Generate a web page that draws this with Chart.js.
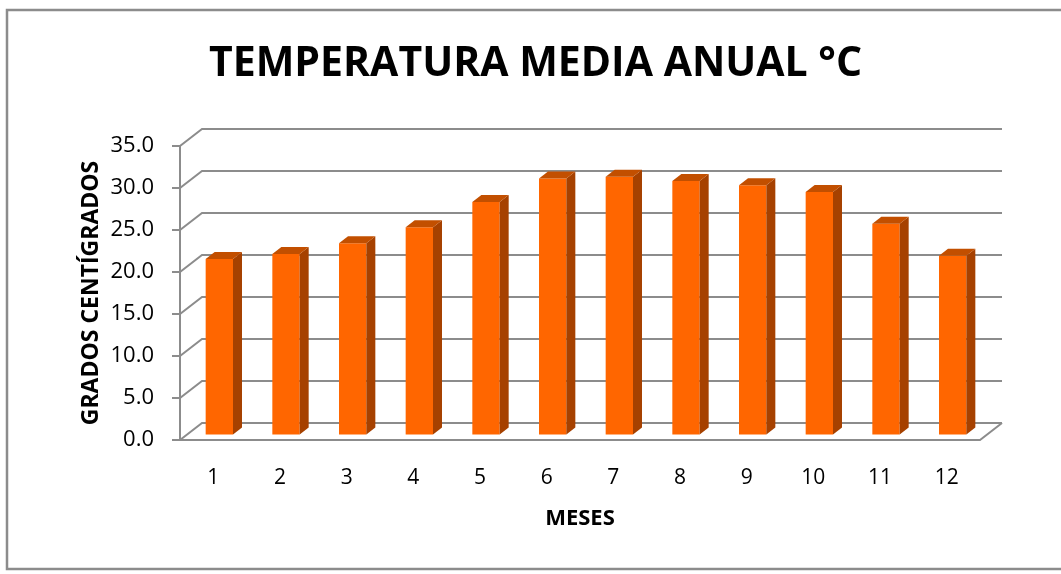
<!DOCTYPE html>
<html>
<head>
<meta charset="utf-8">
<script src="https://cdn.jsdelivr.net/npm/chart.js@4"></script>
<style>
  html, body { margin: 0; padding: 0; background: #fff; }
  #wrap { width: 1061px; height: 574px; }
</style>
</head>
<body>
<div id="wrap"><canvas id="myChart" width="1061" height="574"></canvas></div>
<script>
'use strict';

// data
var meses = ['1', '2', '3', '4', '5', '6', '7', '8', '9', '10', '11', '12'];
var temperaturas = [21.0, 21.6, 22.9, 24.8, 27.8, 30.6, 30.8, 30.3, 29.8, 29.0, 25.2, 21.4];
var ticksY = [0, 5, 10, 15, 20, 25, 30, 35];

var FONT = "'Open Sans', 'DejaVu Sans', sans-serif";
var GRID = '#8c8c8c';
var DEPTH_X = 22, DEPTH_Y = -17;      // back wall offset
var BAR_X = 6, BAR_Y = -4.5;          // bars sit a bit into the floor
var SIDE_X = 9, SIDE_Y = -7;          // bar thickness

// white background + frame
var framePlugin = {
    id: 'frame',
    beforeDraw: function (chart) {
        var ctx = chart.ctx;
        ctx.save();
        ctx.fillStyle = '#fff';
        ctx.fillRect(0, 0, chart.width, chart.height);
        ctx.strokeStyle = GRID;
        ctx.lineWidth = 2.5;
        ctx.strokeRect(7, 10, chart.width + 10, 559);
        ctx.restore();
    }
};

// back wall gridlines, floor and 3d bars
var wallPlugin = {
    id: 'wall',
    beforeDatasetsDraw: function (chart) {
        var ctx = chart.ctx;
        var area = chart.chartArea;
        var y = chart.scales.y;
        ctx.save();
        ctx.strokeStyle = GRID;
        ctx.lineWidth = 2;
        ticksY.forEach(function (v) {
            var py = y.getPixelForValue(v);
            ctx.beginPath();
            ctx.moveTo(area.left, py);
            ctx.lineTo(area.left + DEPTH_X, py + DEPTH_Y);
            ctx.lineTo(area.right + DEPTH_X, py + DEPTH_Y);
            ctx.stroke();
        });
        var p0 = y.getPixelForValue(0);
        ctx.beginPath();
        ctx.moveTo(area.left, p0);
        ctx.lineTo(area.right, p0);
        ctx.lineTo(area.right + DEPTH_X, p0 + DEPTH_Y);
        ctx.stroke();
        ctx.restore();

        chart.ctx.save();
        chart.ctx.translate(BAR_X, BAR_Y);
    },
    afterDatasetsDraw: function (chart) {
        var ctx = chart.ctx;
        var meta = chart.getDatasetMeta(0);
        meta.data.forEach(function (bar) {
            var l = bar.x - bar.width / 2;
            var r = bar.x + bar.width / 2;
            // side
            ctx.fillStyle = '#a64100';
            ctx.beginPath();
            ctx.moveTo(r, bar.y);
            ctx.lineTo(r + SIDE_X, bar.y + SIDE_Y);
            ctx.lineTo(r + SIDE_X, bar.base + SIDE_Y);
            ctx.lineTo(r, bar.base);
            ctx.closePath();
            ctx.fill();
            // top
            ctx.fillStyle = '#c24f00';
            ctx.beginPath();
            ctx.moveTo(l, bar.y);
            ctx.lineTo(l + SIDE_X, bar.y + SIDE_Y);
            ctx.lineTo(r + SIDE_X, bar.y + SIDE_Y);
            ctx.lineTo(r, bar.y);
            ctx.closePath();
            ctx.fill();
        });
        ctx.restore();
    }
};

var ctx = document.getElementById('myChart');
var myChart = new Chart(ctx, {
    type: 'bar',
    data: {
        labels: meses,
        datasets: [
            {
                label: 'Temperatura',
                data: temperaturas,
                backgroundColor: '#ff6600',
                borderWidth: 0,
                barPercentage: 0.41,
                categoryPercentage: 1
            }
        ]
    },
    options: {
        responsive: false,
        animation: false,
        layout: { padding: { left: 10, right: 0, top: 0, bottom: 0 } },
        plugins: {
            legend: { display: false },
            tooltip: { enabled: false },
            title: {
                display: true,
                text: 'TEMPERATURA MEDIA ANUAL °C',
                color: '#000',
                font: { family: FONT, size: 41, weight: 'bold', lineHeight: '50px' },
                padding: { top: 39, bottom: 57 }
            }
        },
        scales: {
            x: {
                afterFit: function (scale) { scale.height = 134; },
                grid: { display: false },
                border: { display: false },
                ticks: {
                    color: '#000',
                    padding: 17,
                    font: { family: FONT, size: 21, lineHeight: 1.2 }
                },
                title: {
                    display: true,
                    text: 'MESES',
                    color: '#000',
                    font: { family: FONT, size: 22, weight: 'bold', lineHeight: 1.2 },
                    padding: { top: 0, bottom: 42 }
                }
            },
            y: {
                min: 0,
                max: 35,
                afterFit: function (scale) { scale.width = 170; },
                afterBuildTicks: function (scale) {
                    scale.ticks = ticksY.map(function (v) { return { value: v }; });
                },
                grid: {
                    drawOnChartArea: false,
                    drawTicks: true,
                    tickLength: 8,
                    color: GRID,
                    lineWidth: 2
                },
                border: { display: true, color: GRID, width: 2 },
                ticks: {
                    color: '#000',
                    padding: 18,
                    font: { family: FONT, size: 22 },
                    callback: function (v) { return Number(v).toFixed(1); }
                },
                title: {
                    display: true,
                    text: 'GRADOS CENTÍGRADOS',
                    color: '#000',
                    font: { family: FONT, size: 23, weight: 'bold', lineHeight: 1.2 },
                    padding: { top: 68, bottom: 0 }
                }
            },
            // empty right axis, only keeps the room right of the floor
            yRight: {
                position: 'right',
                display: true,
                afterFit: function (scale) { scale.width = 81; },
                grid: { display: false },
                border: { display: false },
                ticks: { display: false }
            }
        }
    },
    plugins: [framePlugin, wallPlugin]
});
</script>
</body>
</html>
